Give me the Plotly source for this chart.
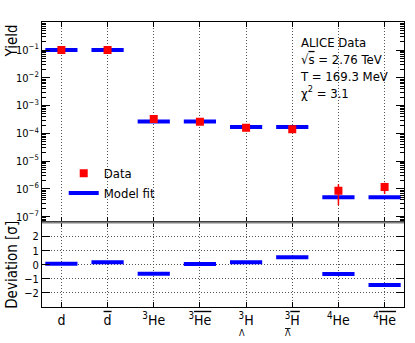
"""
Light-nuclei yields: ALICE data vs thermal model fit, with deviation panel.
"""

import plotly.graph_objects as go
from plotly.subplots import make_subplots

OL = '<span style="text-decoration:overline">{}</span>'

species = ['d', OL.format('d'), '<sup>3</sup>He', '<sup>3</sup>' + OL.format('He'),
           '<sup>3</sup>H', '<sup>3</sup>' + OL.format('H'),
           '<sup>4</sup>He', '<sup>4</sup>' + OL.format('He')]
positions = [0, 1, 2, 3, 4, 5, 6, 7]
data_yield = [0.1, 0.1, 3.3e-4, 2.6e-4, 1.6e-4, 1.4e-4, 8.6e-7, 1.16e-6]
data_err = [0.01, 0.01, 4e-5, 3.5e-5, 2e-5, 2e-5, 6e-7, 5e-7]
model_yield = [0.1, 0.1, 2.7e-4, 2.7e-4, 1.7e-4, 1.7e-4, 5.0e-7, 5.0e-7]
deviation = [0.07, 0.17, -0.64, 0.05, 0.17, 0.53, -0.66, -1.43]
log_ticks = [1e-7, 1e-6, 1e-5, 1e-4, 1e-3, 1e-2, 1e-1]
log_labels = ['10<sup>−7</sup>', '10<sup>−6</sup>', '10<sup>−5</sup>', '10<sup>−4</sup>',
              '10<sup>−3</sup>', '10<sup>−2</sup>', '10<sup>−1</sup>']
dev_ticks = [-2, -1, 0, 1, 2]
dev_labels = ['−2', '−1', '0', '1', '2']

FONT = 'Liberation Sans Narrow, DejaVu Sans Condensed, Liberation Sans, sans-serif'
RED = '#ff0000'
BLUE = '#0000ff'
GRID = dict(showgrid=True, griddash='1px,2px', gridcolor='#555', gridwidth=1)

fig = make_subplots(rows=2, cols=1, shared_xaxes=True, vertical_spacing=0,
                    row_heights=[0.7035, 0.2965])

# model fit as horizontal bars (line-ew markers, ~32px long)
fig.add_trace(go.Scatter(
    x=positions, y=model_yield, mode='markers', showlegend=False,
    marker=dict(symbol='line-ew', size=23, line=dict(width=4, color=BLUE)),
), row=1, col=1)
fig.add_trace(go.Scatter(
    x=positions, y=data_yield, mode='markers', name='Data',
    marker=dict(symbol='square', size=8, color=RED),
    error_y=dict(type='data', array=data_err, color=RED, thickness=1.5, width=0),
), row=1, col=1)
# legend entry only
fig.add_trace(go.Scatter(
    x=[None], y=[None], mode='lines', name='Model fit',
    line=dict(color=BLUE, width=4),
), row=1, col=1)
fig.add_trace(go.Scatter(
    x=positions, y=deviation, mode='markers', showlegend=False,
    marker=dict(symbol='line-ew', size=23, line=dict(width=4, color=BLUE)),
), row=2, col=1)

axis_common = dict(showline=True, mirror='ticks', linecolor='black', linewidth=1,
                   ticks='inside', tickcolor='black', zeroline=False, automargin=False)

fig.update_xaxes(
    **axis_common, **GRID, range=[-0.42, 7.42], tickvals=positions, ticktext=species,
    ticklen=5, tickfont=dict(size=14, family=FONT, color='black'),
)
fig.update_yaxes(
    **axis_common, type='log', range=[-7.21, 0.01], row=1, col=1,
    tickvals=log_ticks, ticktext=log_labels,
    ticklen=8, showgrid=False,
    minor=dict(ticks='inside', ticklen=4, tickcolor='black', dtick='D1', showgrid=False),
    tickfont=dict(size=11, family=FONT, color='black'),
)
fig.update_yaxes(
    **axis_common, **GRID, range=[-3, 3], row=2, col=1, tickvals=dev_ticks,
    ticktext=dev_labels, ticklen=8,
    tickfont=dict(size=11, family=FONT, color='black'),
)

# hypertriton subscripts, stacked under the mass number
for x, txt in [(4, 'Λ'), (5, OL.format('Λ'))]:
    fig.add_annotation(x=x, y=0, xref='x2', yref='paper', text=txt, showarrow=False,
                       xanchor='center', yanchor='middle', xshift=-4, yshift=-26,
                       font=dict(size=9, family=FONT, color='black'))

fig.add_annotation(x=-0.083, y=1.0, xref='paper', yref='paper', text='Yield', textangle=-90,
                   showarrow=False, xanchor='center', yanchor='top',
                   font=dict(size=15, family=FONT, color='black'))
fig.add_annotation(x=-0.083, y=0.148, xref='paper', yref='paper', text='Deviation [σ]',
                   textangle=-90, showarrow=False, xanchor='center', yanchor='middle',
                   font=dict(size=15, family=FONT, color='black'))
fig.add_annotation(x=0.708, y=0.96, xref='paper', yref='paper', showarrow=False,
                   xanchor='left', yanchor='top', align='left',
                   text='ALICE Data<br>√' + OL.format('s') + ' = 2.76 TeV<br>T = 169.3 MeV<br>χ<sup>2</sup> = 3.1',
                   font=dict(size=13, family=FONT, color='black'))

# separator between the two panels
fig.add_shape(type='line', xref='paper', yref='paper', x0=0, x1=1, y0=0.2965, y1=0.2965,
              line=dict(color='#808080', width=2))

fig.update_layout(
    width=415, height=343, margin=dict(l=42, r=11, t=22, b=36),
    plot_bgcolor='white', paper_bgcolor='white',
    font=dict(family=FONT, color='black'),
    legend=dict(x=0.06, y=0.522, xanchor='left', yanchor='top', bgcolor='rgba(0,0,0,0)',
                font=dict(size=13, family=FONT, color='black'), tracegroupgap=0),
)

# drop the browser's default body margin so the figure sits at the page origin
fig.write_html("out.html", config={'displayModeBar': False},
               post_script="document.body.style.margin = '0';")
